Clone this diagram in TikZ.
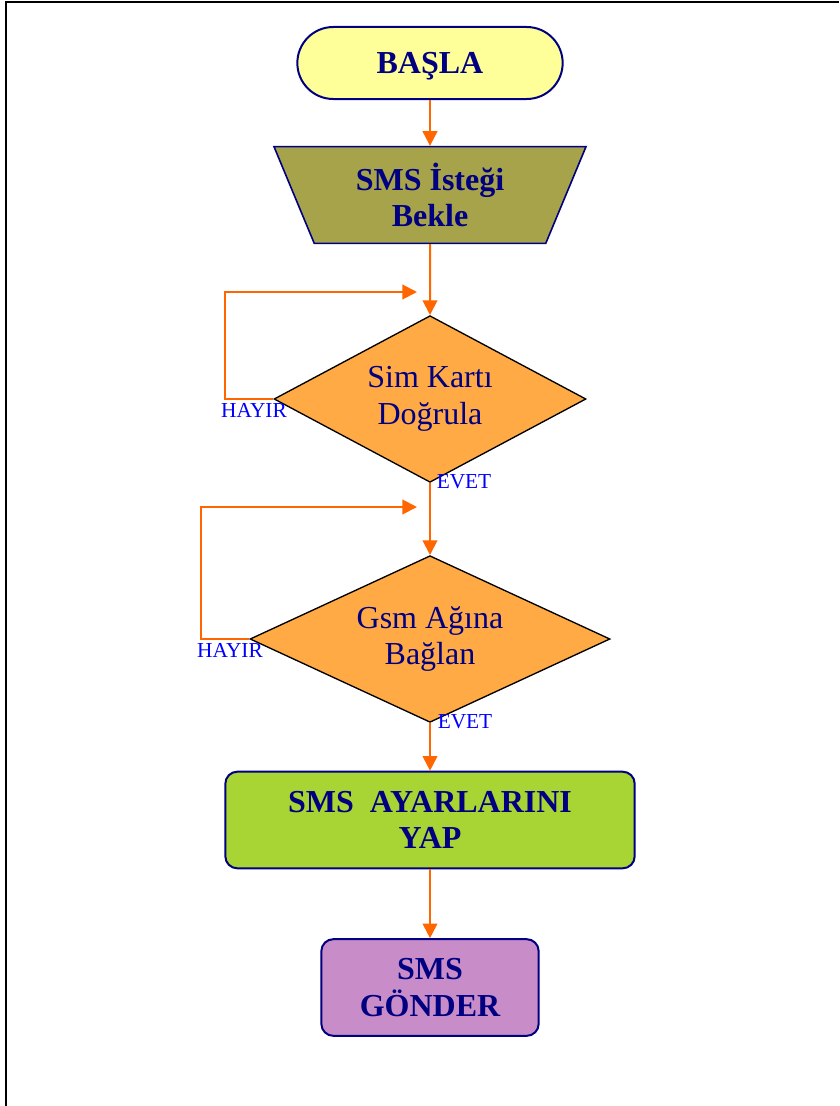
\documentclass[tikz,border=0pt]{standalone}
\usepackage{fontspec}
\setmainfont{Liberation Serif}
\usetikzlibrary{arrows.meta,shapes.geometric}
\definecolor{ink}{HTML}{000080}
\definecolor{flowc}{HTML}{FF6600}
\definecolor{startc}{HTML}{FFFF99}
\definecolor{waitc}{HTML}{A6A34A}
\definecolor{decc}{HTML}{FFAA44}
\definecolor{setc}{HTML}{A8D434}
\definecolor{sendc}{HTML}{C88CC8}
\definecolor{lblc}{HTML}{0000FF}
\tikzset{
  fc/.style={>={Triangle[length=11pt,width=11pt]}, x=0.75pt, y=-0.75pt,
             every node/.style={font=\fontsize{24}{27.5}\selectfont, text=ink, align=center, inner sep=0pt}},
  term/.style={draw=ink, line width=1.5pt, fill=startc, rounded corners=27pt, minimum width=199pt, minimum height=54pt,
               text depth=0pt, font=\fontsize{24}{27.5}\selectfont\bfseries},
  waitbox/.style={trapezium, shape border rotate=180, trapezium left angle=58, trapezium right angle=58, trapezium stretches body,
                  draw=ink, line width=1.2pt, fill=waitc, minimum width=234pt, minimum height=72.5pt, font=\fontsize{24}{27.5}\selectfont\bfseries},
  dec/.style={diamond, aspect=2, draw=black, line width=1pt, fill=decc, minimum height=125pt},
  proc/.style={rectangle, draw=ink, line width=1.5pt, rounded corners=9pt, minimum height=72.5pt, font=\fontsize{24}{27.5}\selectfont\bfseries},
  link/.style={->, draw=flowc, line width=1.5pt},
  lbl/.style={text=lblc, font=\fontsize{16}{18}\selectfont}
}

\begin{document}
\begin{tikzpicture}[fc]
\useasboundingbox (0,0) rectangle (839,1106);
% frame
\draw[line width=1.5pt] (6,1106) -- (6,2.5) -- (839,2.5);
\node[term] (start) at (430,63) {BAŞLA};
\node[waitbox] (wait) at (430,195) {SMS İsteği\\Bekle};
\node[dec, minimum width=234pt] (sim) at (430,399) {Sim Kartı\\Doğrula};
\node[dec, minimum width=270pt] (gsm) at (430,639) {Gsm Ağına\\Bağlan};
\node[proc, fill=setc, minimum width=307pt] (set) at (430,820) {SMS~~AYARLARINI\\YAP};
\node[proc, fill=sendc, minimum width=163pt] (send) at (430,987.5) {SMS\\GÖNDER};
\coordinate (m1) at (417,292);
\coordinate (m2) at (417,507);
\draw[link] (start) -- (wait);
\draw[link] (wait) -- (sim);
\draw[link] (sim) -- (gsm);
\draw[link] (gsm) -- (set);
\draw[link] (set) -- (send);
% back loops
\draw[link] (sim.west) -- ++(-48,0) |- (m1);
\draw[link] (gsm.west) -- ++(-48,0) |- (m2);
\node[lbl] (no1) at (254,410) {HAYIR};
\node[lbl] (yes1) at (464,482) {EVET};
\node[lbl] (no2) at (230,650) {HAYIR};
\node[lbl] (yes2) at (465,722) {EVET};
\end{tikzpicture}
\end{document}
